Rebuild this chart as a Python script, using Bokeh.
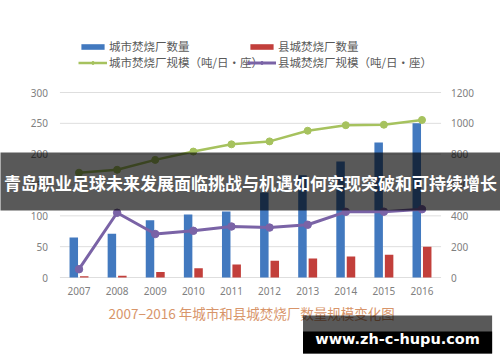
from bokeh.plotting import figure
from bokeh.models import (ColumnDataSource, FactorRange, Range1d, LinearAxis, FixedTicker,
                          Legend, LegendItem, BoxAnnotation, Label)
from bokeh.transform import dodge
from bokeh.embed import file_html
from bokeh.resources import INLINE

years = ["2007", "2008", "2009", "2010", "2011", "2012", "2013", "2014", "2015", "2016"]
city_count = [65, 71, 93, 102, 107, 138, 166, 188, 219, 250]
county_count = [2, 3, 9, 15, 21, 27, 31, 34, 37, 50]
city_scale = [680, 699, 763, 817, 864, 883, 952, 988, 991, 1022]
county_scale = [54, 420, 282, 303, 331, 324, 342, 426, 427, 443]
left_ticks = [0, 50, 100, 150, 200, 250, 300]
right_ticks = [0, 200, 400, 600, 800, 1000, 1200]

legend_labels = ["城市焚烧厂数量", "县城焚烧厂数量", "城市焚烧厂规模（吨/日·座）", "县城焚烧厂规模（吨/日·座）"]
banner_text = "青岛职业足球未来发展面临挑战与机遇如何实现突破和可持续增长"
title_text = "2007−2016 年城市和县城焚烧厂数量规模变化图"
watermark_text = "www.zh-c-hupu.com"

BLUE = "#4279bf"
RED = "#c23f3b"
GREEN = "#a6c25e"
PURPLE = "#7a63a6"
GRAY = "#808080"
CJK = "Noto Sans CJK SC"

src = ColumnDataSource(dict(year=years, city_count=city_count, county_count=county_count,
                            city_scale=city_scale, county_scale=county_scale))
grid_src = ColumnDataSource(dict(y=left_ticks))

# the frame fills the whole canvas; plot area is x 0..10 (categories), y 0..300 / 0..1200
p = figure(x_range=FactorRange(factors=years, range_padding=1.56, range_padding_units="absolute"),
           y_range=Range1d(-137.8, 449.2),
           width=500, height=362, output_backend="svg", toolbar_location=None,
           min_border=0)
p.extra_y_ranges = {"r": Range1d(-551.2, 1796.8)}
p.outline_line_color = None
p.background_fill_color = "white"
p.border_fill_color = "white"
p.xgrid.visible = False
p.ygrid.visible = False

yl = p.yaxis[0]
yl.ticker = FixedTicker(ticks=left_ticks)
yl.fixed_location = 0
yr = LinearAxis(y_range_name="r", ticker=FixedTicker(ticks=right_ticks), fixed_location=10)
p.add_layout(yr, "right")
xa = p.xaxis[0]
xa.fixed_location = 0
for ax in (yl, yr, xa):
    ax.axis_line_color = None
    ax.major_tick_line_color = None
    ax.minor_tick_line_color = None
    ax.major_tick_out = 0
    ax.major_tick_in = 0
    ax.major_label_text_color = GRAY
    ax.major_label_text_font = "Noto Sans"
    ax.major_label_text_font_size = "10px"
yl.major_label_standoff = 12
yr.major_label_standoff = 10
xa.major_label_standoff = 9

p.segment(x0=0, x1=10, y0="y", y1="y", source=grid_src, line_color="#dedede", line_width=1)

b1 = p.vbar(x=dodge("year", -0.137, range=p.x_range), top="city_count", width=0.223,
            source=src, fill_color=BLUE, line_color=None)
b2 = p.vbar(x=dodge("year", 0.137, range=p.x_range), top="county_count", width=0.223,
            source=src, fill_color=RED, line_color=None)
l1 = p.line("year", "city_scale", source=src, y_range_name="r", line_color=GREEN, line_width=2.5)
s1 = p.scatter("year", "city_scale", source=src, y_range_name="r", size=7,
               fill_color=GREEN, line_color=GREEN)
l2 = p.line("year", "county_scale", source=src, y_range_name="r", line_color=PURPLE, line_width=3)
s2 = p.scatter("year", "county_scale", source=src, y_range_name="r", size=7.5,
               fill_color=PURPLE, line_color=PURPLE)

legend_style = dict(orientation="vertical", glyph_width=29, glyph_height=7, label_height=13,
                    label_standoff=2, spacing=0, padding=0, margin=0, border_line_color=None,
                    background_fill_alpha=0, label_text_font=CJK,
                    label_text_font_size="11.5px", label_text_color="#595959")
legend_left = Legend(items=[LegendItem(label=legend_labels[0], renderers=[b1]),
                            LegendItem(label=legend_labels[2], renderers=[l1, s1])],
                     location=(78, 292), **legend_style)
legend_right = Legend(items=[LegendItem(label=legend_labels[1], renderers=[b2]),
                             LegendItem(label=legend_labels[3], renderers=[l2, s2])],
                      location=(247, 292), **legend_style)
p.add_layout(legend_left, "center")
p.add_layout(legend_right, "center")

# overlay banner across the chart
p.add_layout(BoxAnnotation(left=-1.7, right=11.7, top=202.7, bottom=108.6,
                           fill_color="black", fill_alpha=0.65, line_color=None))
p.add_layout(Label(x=5.0, y=154, text=banner_text, text_align="center", text_baseline="middle",
                   text_font=CJK, text_font_style="bold", text_font_size="17px",
                   text_color="white"))
# caption below the axis
p.add_layout(Label(x=5.03, y=-57, text=title_text, text_align="center", text_baseline="middle",
                   text_font=CJK, text_font_size="13.5px", text_color="#d8956a"))
# watermark
p.add_layout(BoxAnnotation(left=6.378, right=11.34, top=-61.6, bottom=-123.2,
                           fill_color="black", fill_alpha=0.65, line_color=None))
p.add_layout(BoxAnnotation(left=6.378, right=11.34, top=-87.6, bottom=-123.2,
                           fill_color="black", fill_alpha=1.0, line_color=None))
p.add_layout(Label(x=8.86, y=-98.9, text=watermark_text, text_align="center", text_baseline="middle",
                   text_font="DejaVu Sans", text_font_style="bold", text_font_size="14.5px",
                   text_color="white"))

open("out.html", "w").write(file_html(p, INLINE))
